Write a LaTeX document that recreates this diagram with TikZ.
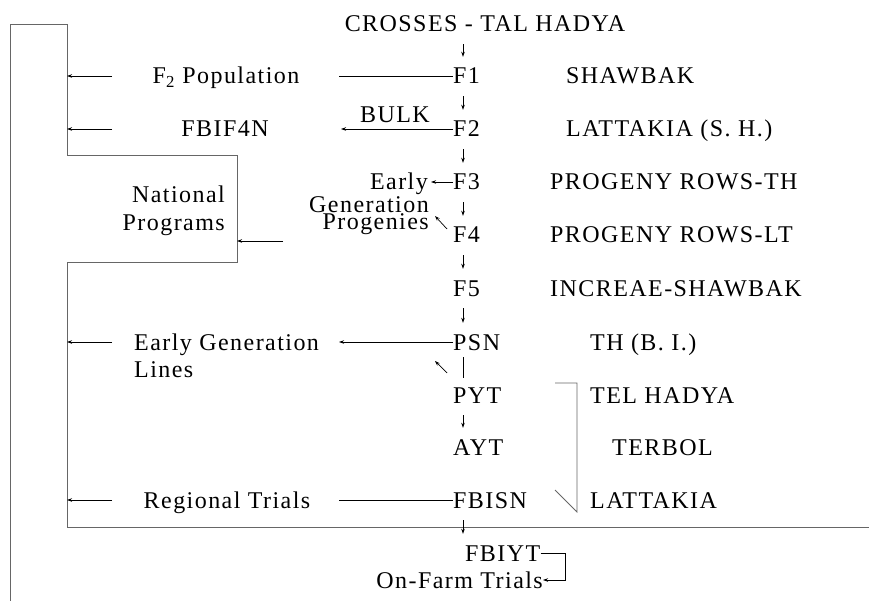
\documentclass[tikz,border=0pt]{standalone}
\usepackage{fontspec}
\setmainfont{Liberation Serif}[LetterSpace=6]
\usetikzlibrary{arrows.meta}
\begin{document}
\begin{tikzpicture}[x=1pt,y=-1pt,
  lbl/.style={font=\fontsize{24}{27}\selectfont, inner sep=0pt, text height=16pt, text depth=0pt},
  lw/.style={anchor=west},
  le/.style={anchor=east},
  ln/.style={line width=0.7pt},
  frame/.style={line width=0.8pt, black!60},
  larr/.style={ln, -{Stealth[length=5pt,width=3.5pt]}},
  darr/.style={ln, -{Stealth[length=5pt,width=3.5pt]}, shorten <=12pt, shorten >=11pt}]
\useasboundingbox (0,0) rectangle (869,601);
% column x for vertical arrows
\coordinate (col) at (463,0);
% central column
\node[lbl] (cross) at (485,24) {CROSSES - TAL HADYA};
\node[lbl,lw] (F1) at (453,76) {F1};
\node[lbl,lw] (F2) at (453,129) {F2};
\node[lbl,lw] (F3) at (453,182) {F3};
\node[lbl,lw] (F4) at (453,235) {F4};
\node[lbl,lw] (F5) at (453,288) {F5};
\node[lbl,lw] (PSN) at (453,342) {PSN};
\node[lbl,lw] (PYT) at (453,395) {PYT};
\node[lbl,lw] (AYT) at (453,447) {AYT};
\node[lbl,lw] (FBISN) at (453,500) {FBISN};
\node[lbl,lw] (FBIYT) at (465,553) {FBIYT};
\node[lbl,le] (farm) at (543,580) {On-Farm Trials};
% right column
\node[lbl,lw] (r1) at (566,76) {SHAWBAK};
\node[lbl,lw] (r2) at (566,129) {LATTAKIA (S. H.)};
\node[lbl,lw] (r3) at (550,182) {PROGENY ROWS-TH};
\node[lbl,lw] (r4) at (550,235) {PROGENY ROWS-LT};
\node[lbl,lw] (r5) at (550,288) {INCREAE-SHAWBAK};
\node[lbl,lw] (r6) at (590,342) {TH (B. I.)};
\node[lbl,lw] (r7) at (590,395) {TEL HADYA};
\node[lbl,lw] (r8) at (612,447) {TERBOL};
\node[lbl,lw] (r9) at (590,500) {LATTAKIA};
% left column
\node[lbl] (f2pop) at (226,76) {F\textsubscript{2} Population};
\node[lbl] (fbif) at (225,129) {FBIF4N};
\node[lbl] (bulk) at (395,115) {BULK};
\node[lbl,le] (nat1) at (225,195) {National};
\node[lbl,le] (nat2) at (225,223) {Programs};
\node[lbl,le] (early) at (428,182) {Early};
\node[lbl,le] (gen) at (429,205) {Generation};
\node[lbl,le] (prog) at (429,222) {Progenies};
\node[lbl,lw] (egl1) at (134,342) {Early Generation};
\node[lbl,lw] (egl2) at (134,369) {Lines};
\node[lbl] (reg) at (227,500) {Regional Trials};
% frame
\draw[frame] (10,601) -- (10,24) -- (67,24) -- (67,155) -- (237,155) -- (237,262) -- (67,262) -- (67,527) -- (869,527);
% right bracket
\draw[frame] (555,383) -- (577,383) -- (577,512) -- (555,490);
% vertical arrows
\draw[darr] (cross.south -| col) -- (F1.north -| col);
\draw[darr] (F1.south -| col) -- (F2.north -| col);
\draw[darr] (F2.south -| col) -- (F3.north -| col);
\draw[darr] (F3.south -| col) -- (F4.north -| col);
\draw[darr] (F4.south -| col) -- (F5.north -| col);
\draw[darr] (F5.south -| col) -- (PSN.north -| col);
\draw[ln, shorten <=7pt, shorten >=9pt] (PSN.south -| col) -- (PYT.north -| col);
\draw[darr] (PYT.south -| col) -- (AYT.north -| col);
\draw[darr] (FBISN.south -| col) -- (FBIYT.north -| col);
% horizontal connectors from the central column
\coordinate (e1) at (339,76);
\coordinate (e2) at (341,129);
\coordinate (e6) at (339,342);
\coordinate (e9) at (339,500);
\draw[ln] (F1.west) -- (e1);
\draw[larr] (F2.west) -- (e2);
\draw[larr, shorten >=3pt] (F3.west) -- (early.east);
\coordinate (p1) at (447,229); \coordinate (p2) at (435,216);
\draw[larr] (p1) -- (p2);
\draw[larr] (PSN.west) -- (e6);
\coordinate (q1) at (447,373); \coordinate (q2) at (435,361);
\draw[larr] (q1) -- (q2);
\draw[ln] (FBISN.west) -- (e9);
% arrows into the frame
\foreach \yy/\nm in {76/a, 129/b, 342/c, 500/d} {
  \coordinate (s\nm) at (112,\yy);
  \coordinate (t\nm) at (67,\yy);
  \draw[larr] (s\nm) -- (t\nm);
}
\coordinate (snat) at (283,241); \coordinate (tnat) at (237,241);
\draw[larr] (snat) -- (tnat);
% FBIYT loop
\coordinate (k1) at (565,553); \coordinate (k2) at (565,580);
\draw[ln, -{Stealth[length=5pt,width=3.5pt]}] (FBIYT.east) -- (k1) -- (k2) -- (farm.east);
\end{tikzpicture}
\end{document}
